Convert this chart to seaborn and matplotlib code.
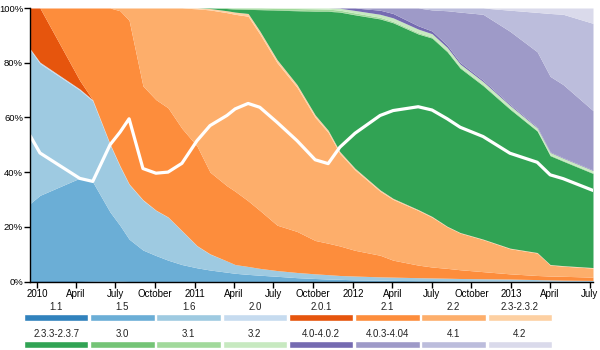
import matplotlib
matplotlib.use("Agg")
import matplotlib.pyplot as plt
import matplotlib.dates as mdates
import matplotlib.ticker as mticker
import seaborn as sns
import numpy as np
import pandas as pd

sns.set_style("white")
plt.rcParams["font.family"] = ["Liberation Sans", "DejaVu Sans"]

# survey dates
dates = ["2009-12-16", "2010-01-08", "2010-04-10", "2010-05-10", "2010-06-19",
         "2010-07-12", "2010-08-02", "2010-09-03", "2010-10-03", "2010-10-31",
         "2010-12-02", "2011-01-06", "2011-02-05", "2011-03-16", "2011-04-04",
         "2011-05-04", "2011-05-31", "2011-07-10", "2011-08-25", "2011-10-06",
         "2011-11-05", "2011-12-02", "2012-01-06", "2012-03-04", "2012-04-03",
         "2012-05-31", "2012-07-02", "2012-08-06", "2012-09-05", "2012-10-28",
         "2012-12-29", "2013-03-02", "2013-04-01", "2013-05-01", "2013-07-09"]

versions = ["1.1", "1.5", "1.6", "2.0", "2.0.1", "2.1", "2.2", "2.3-2.3.2",
            "2.3.3-2.3.7", "3.0", "3.1", "3.2", "4.0-4.0.2", "4.0.3-4.04", "4.1", "4.2"]

# share of devices per version (%)
v1_1 = [0.3, 0.3, 0.3, 0.2, 0.1, 0.1, 0, 0, 0, 0, 0, 0, 0, 0, 0, 0, 0, 0, 0, 0,
        0, 0, 0, 0, 0, 0, 0, 0, 0, 0, 0, 0, 0, 0, 0]
v1_5 = [28.2, 31.2, 37.5, 36.2, 25.3, 20.4, 15.5, 11.5, 9.5, 7.8, 6.2, 5.0, 4.2, 3.4, 3.0,
        2.6, 2.3, 1.9, 1.4, 1.1, 0.9, 0.8, 0.6, 0.5, 0.4, 0.3, 0.3, 0.2, 0.2, 0.1,
        0.1, 0.1, 0.1, 0.1, 0.1]
v1_6 = [56.2, 48.2, 32.2, 29.6, 24.6, 21.5, 20.0, 18.2, 16.5, 15.7, 12.3, 8.0, 5.8, 4.1, 3.2,
        2.9, 2.5, 2.1, 1.9, 1.7, 1.6, 1.4, 1.4, 1.2, 1.2, 1.1, 1.0, 1.0, 0.9, 0.9,
        0.8, 0.6, 0.5, 0.4, 0.3]
v2_0 = [0.5, 0.5, 0.4, 0.4, 0.3, 0.3, 0.2, 0.2, 0.1, 0.1, 0.1, 0.1, 0.1, 0, 0, 0, 0, 0, 0, 0,
        0, 0, 0, 0, 0, 0, 0, 0, 0, 0, 0, 0, 0, 0, 0]
v2_0_1 = [14.8, 19.8, 3.1, 0, 0, 0, 0, 0, 0, 0, 0, 0, 0, 0, 0, 0, 0, 0, 0, 0,
          0, 0, 0, 0, 0, 0, 0, 0, 0, 0, 0, 0, 0, 0, 0]
v2_1 = [0, 0, 26.5, 33.6, 49.7, 56.7, 59.8, 41.6, 40.4, 39.9, 37.4, 36.4, 29.9, 27.5, 26.8,
        24.0, 21.2, 16.6, 15.0, 12.2, 11.5, 10.8, 9.4, 7.9, 6.2, 4.6, 4.0, 3.6, 3.2, 2.6,
        1.9, 1.5, 1.4, 1.4, 1.2]
v2_2 = [0, 0, 0, 0, 0, 1.0, 4.5, 28.5, 33.5, 36.5, 44.0, 50.2, 59.3, 63.3, 64.7,
        67.5, 64.5, 59.4, 52.7, 45.0, 40.5, 33.8, 29.4, 23.4, 22.2, 20.0, 18.2, 15.2, 13.4, 11.7,
        9.2, 8.2, 4.0, 3.7, 3.3]
v2_3 = [0, 0, 0, 0, 0, 0, 0, 0, 0, 0, 0, 0.3, 0.5, 0.7, 0.8, 1.0, 1.1, 1.1, 1.0, 0.9,
        0.8, 0.7, 0.6, 0.5, 0.4, 0.3, 0.3, 0.2, 0.2, 0.2, 0.2, 0.2, 0.2, 0.2, 0.2]
v2_3_3 = [0, 0, 0, 0, 0, 0, 0, 0, 0, 0, 0, 0, 0.2, 0.8, 1.1, 1.5, 7.8, 18.1, 27.0, 37.9,
          43.5, 51.0, 56.1, 62.5, 64.2, 64.2, 65.2, 63.8, 60.1, 56.1, 50.8, 44.4, 39.8, 38.2, 34.4]
v3_0 = [0, 0, 0, 0, 0, 0, 0, 0, 0, 0, 0, 0, 0, 0.2, 0.2, 0.2, 0.2, 0.2, 0.2, 0.2,
        0.2, 0.1, 0.1, 0.1, 0.1, 0.1, 0.1, 0.1, 0.1, 0.1, 0.1, 0.1, 0.1, 0.1, 0.1]
v3_1 = [0, 0, 0, 0, 0, 0, 0, 0, 0, 0, 0, 0, 0, 0, 0.2, 0.3, 0.4, 0.5, 0.6, 0.7,
        0.6, 0.6, 0.6, 0.5, 0.4, 0.4, 0.3, 0.3, 0.3, 0.3, 0.3, 0.2, 0.2, 0.2, 0.2]
v3_2 = [0, 0, 0, 0, 0, 0, 0, 0, 0, 0, 0, 0, 0, 0, 0, 0, 0, 0.1, 0.2, 0.3,
        0.4, 0.7, 0.9, 1.1, 1.3, 1.3, 1.2, 1.2, 1.1, 1.1, 1.0, 0.9, 0.9, 0.8, 0.8]
v4_0 = [0, 0, 0, 0, 0, 0, 0, 0, 0, 0, 0, 0, 0, 0, 0, 0, 0, 0, 0, 0,
        0, 0.1, 0.9, 1.5, 1.6, 1.2, 1.0, 0.8, 0.6, 0.5, 0.4, 0.3, 0.2, 0.2, 0.2]
v4_0_3 = [0, 0, 0, 0, 0, 0, 0, 0, 0, 0, 0, 0, 0, 0, 0, 0, 0, 0, 0, 0,
          0, 0, 0, 0.8, 2.0, 6.5, 7.7, 12.6, 18.4, 24.1, 26.7, 27.5, 27.6, 26.7, 21.7]
v4_1 = [0, 0, 0, 0, 0, 0, 0, 0, 0, 0, 0, 0, 0, 0, 0, 0, 0, 0, 0, 0,
        0, 0, 0, 0, 0, 0, 0.7, 1.0, 1.5, 2.3, 7.7, 14.4, 23.0, 25.7, 31.9]
v4_2 = [0, 0, 0, 0, 0, 0, 0, 0, 0, 0, 0, 0, 0, 0, 0, 0, 0, 0, 0, 0,
        0, 0, 0, 0, 0, 0, 0, 0, 0, 0, 0.8, 1.6, 2.0, 2.3, 5.6]

# white overlay line (%)
line_values = [53.4, 47.0, 37.7, 36.6, 50.0, 54.6, 59.5, 41.3, 39.6, 40.0,
               43.2, 51.5, 57.0, 60.7, 63.1, 65.1, 63.7, 58.2, 51.5, 44.5,
               43.1, 49.1, 54.2, 60.7, 62.5, 63.9, 62.7, 59.5, 56.4, 53.0,
               46.9, 43.6, 39.0, 37.6, 33.3]

colors = ["#3182bd", "#6baed6", "#9ecae1", "#c6dbef", "#e6550d", "#fd8d3c", "#fdae6b", "#fdd0a2",
          "#31a354", "#74c476", "#a1d99b", "#c7e9c0", "#756bb1", "#9e9ac8", "#bcbddc", "#dadaeb"]

series = [v1_1, v1_5, v1_6, v2_0, v2_0_1, v2_1, v2_2, v2_3,
          v2_3_3, v3_0, v3_1, v3_2, v4_0, v4_0_3, v4_1, v4_2]
df = pd.DataFrame(dict(zip(versions, series)), index=pd.to_datetime(dates))
share = df.div(df.sum(axis=1), axis=0) * 100

fig = plt.figure(figsize=(6, 3.5), dpi=100)
ax = fig.add_axes([30 / 600, 1 - 281.5 / 350, 563 / 600, 273.5 / 350])

ax.stackplot(share.index, share.T.values, colors=colors, linewidth=0)
sns.lineplot(x=share.index, y=line_values, ax=ax, color="white", linewidth=2.3)

ax.set_xlim(share.index[0], share.index[-1])
ax.set_ylim(0, 100)
ax.yaxis.set_major_locator(mticker.MultipleLocator(20))
ax.yaxis.set_major_formatter(mticker.FuncFormatter(lambda v, p: f"{v:.0f}%"))
ax.xaxis.set_major_locator(mdates.MonthLocator(bymonth=[1, 4, 7, 10]))
ax.xaxis.set_major_formatter(mticker.FuncFormatter(
    lambda v, p: str(mdates.num2date(v).year) if mdates.num2date(v).month == 1
    else mdates.num2date(v).strftime("%B")))

for s in ["top", "right"]:
    ax.spines[s].set_visible(False)
for s in ["left", "bottom"]:
    ax.spines[s].set_color("black")
    ax.spines[s].set_linewidth(1)
ax.tick_params(bottom=True, left=True, direction="out", length=4, width=1,
               color="black", labelsize=7, pad=1.5, labelcolor="black")
ax.tick_params(axis="y", labelsize=6.8, pad=1)
ax.set_xlabel("")
ax.set_ylabel("")

# legend: colour bars with labels above, two rows of eight
lax = fig.add_axes([23 / 600, 1 - 348 / 350, 530 / 600, 48 / 350])
lax.set_xlim(0, 8)
lax.set_ylim(48, 0)
lax.axis("off")
for i, name in enumerate(versions):
    row, col = divmod(i, 8)
    lax.bar(col + 0.5, 6.5, bottom=14 + 27 * row, width=0.975, color=colors[i])
    lax.text(col + 0.5, 7.5 + 26.5 * row, name, ha="center", va="center", fontsize=7, color="#222222")

fig.savefig("out.png", dpi=100)
